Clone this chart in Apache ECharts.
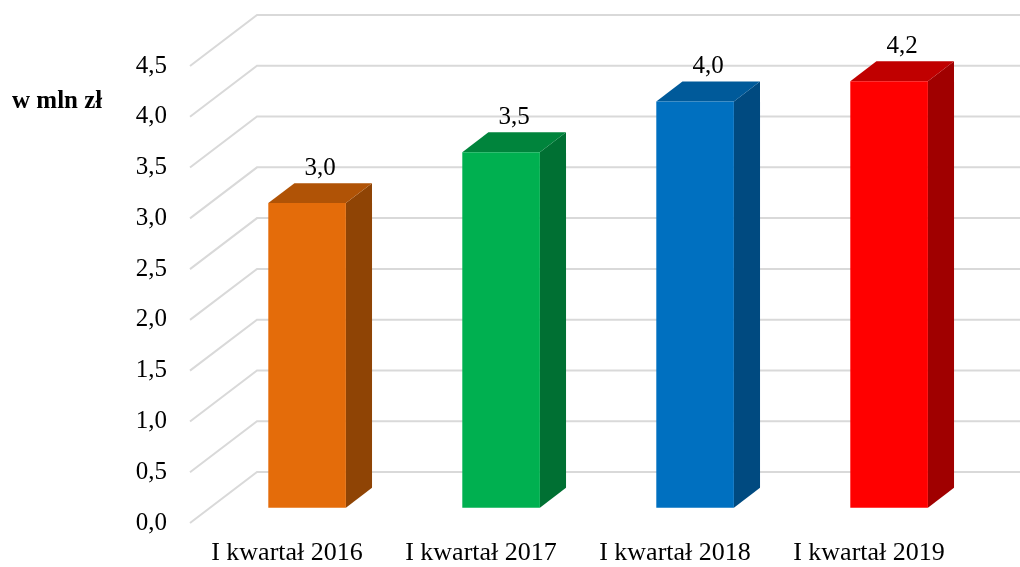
<!DOCTYPE html>
<html>
<head>
<meta charset="utf-8">
<script src="https://cdn.jsdelivr.net/npm/echarts@6/dist/echarts.min.js"></script>
<style>
  html, body { margin: 0; padding: 0; background: #fff; }
  #chart { width: 1020px; height: 567px; }
</style>
</head>
<body>
<div id="chart"></div>
<script>
const categories = ['I kwartał 2016', 'I kwartał 2017', 'I kwartał 2018', 'I kwartał 2019'];
const values = [3.0, 3.5, 4.0, 4.2];
const yTicks = [0, 0.5, 1.0, 1.5, 2.0, 2.5, 3.0, 3.5, 4.0, 4.5];
const unitLabel = 'w mln zł';

const frontColors = ['#E46C0A', '#00B050', '#0070C0', '#FF0000'];
const topColors = ['#B05306', '#00843C', '#005A9A', '#C00000'];
const sideColors = ['#8F4405', '#007033', '#004A80', '#A00000'];

const FONT = '"Liberation Serif", "Times New Roman", serif';
const DX = 67, DY = -51;          // depth vector of the 3D floor
const BAR_OFF = 0.3, BAR_DEPTH = 0.39;
const fmt = v => v.toFixed(1).replace('.', ',');

const chart = echarts.init(document.getElementById('chart'), null, { renderer: 'canvas' });

chart.setOption({
  animation: false,
  backgroundColor: '#ffffff',
  title: {
    text: unitLabel,
    left: 7,
    top: 84,
    textStyle: { fontFamily: FONT, fontSize: 25, fontWeight: 'bold', color: '#000' }
  },
  grid: { left: 190, right: 54, top: 66, bottom: 44, containLabel: false },
  xAxis: {
    type: 'category',
    data: categories,
    axisLine: { show: false },
    axisTick: { show: false },
    splitLine: { show: false },
    axisLabel: { margin: 17, fontFamily: FONT, fontSize: 26, color: '#000', interval: 0 }
  },
  yAxis: {
    type: 'value',
    min: 0,
    max: 4.5,
    interval: 0.5,
    axisLine: { show: false },
    axisTick: { show: false },
    splitLine: { show: false },
    axisLabel: { margin: 23, fontFamily: FONT, fontSize: 25, color: '#000', formatter: v => fmt(v) }
  },
  series: [
    {
      type: 'custom',
      coordinateSystem: 'cartesian2d',
      clip: false,
      silent: true,
      z: 1,
      data: yTicks.map(v => [0, v]),
      renderItem: function (params, api) {
        const cs = params.coordSys;
        const y = api.coord([0, api.value(1)])[1];
        const x0 = cs.x;
        return {
          type: 'polyline',
          shape: { points: [[x0, y], [x0 + DX, y + DY], [cs.x + cs.width + DX + 60, y + DY]] },
          style: { stroke: '#D9D9D9', lineWidth: 2, fill: null }
        };
      }
    },
    {
      type: 'custom',
      coordinateSystem: 'cartesian2d',
      clip: false,
      z: 2,
      data: values.map((v, i) => [i, v]),
      renderItem: function (params, api) {
        const idx = api.value(0);
        const v = api.value(1);
        const top = api.coord([idx, v]);
        const base = api.coord([idx, 0]);
        const bw = api.size([1, 0])[0] * 0.4;
        const ox = DX * BAR_OFF, oy = DY * BAR_OFF;
        const bx = DX * BAR_DEPTH, by = DY * BAR_DEPTH;
        const xl = top[0] - bw / 2 + ox;
        const xr = xl + bw;
        const yt = top[1] + oy;
        const yb = base[1] + oy;
        return {
          type: 'group',
          children: [
            {
              type: 'polygon',
              shape: { points: [[xr, yt], [xr + bx, yt + by], [xr + bx, yb + by], [xr, yb]] },
              style: { fill: sideColors[idx] }
            },
            {
              type: 'polygon',
              shape: { points: [[xl, yt], [xr, yt], [xr + bx, yt + by], [xl + bx, yt + by]] },
              style: { fill: topColors[idx] }
            },
            {
              type: 'rect',
              shape: { x: xl, y: yt, width: bw, height: yb - yt },
              style: { fill: frontColors[idx] }
            },
            {
              type: 'text',
              x: top[0] + ox + bx / 2,
              y: yt + by - 15,
              style: {
                text: fmt(v),
                font: '25px ' + FONT,
                fill: '#000',
                align: 'center',
                verticalAlign: 'middle'
              }
            }
          ]
        };
      }
    }
  ]
});
</script>
</body>
</html>
